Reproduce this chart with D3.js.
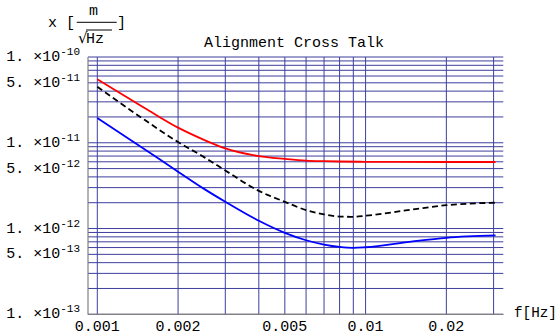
<!DOCTYPE html>
<html><head><meta charset="utf-8">
<script src="https://cdn.jsdelivr.net/npm/d3@7"></script>
<style>
body{margin:0;background:#fff;}
svg{display:block;}
text{font-family:"Liberation Mono","Courier New",monospace;fill:#000;}
</style></head>
<body><svg id="c" width="558" height="336"></svg>
<script>
// ---- data ----
const freqRed   = [0.001,0.0015,0.002,0.0025,0.003,0.004,0.005,0.006,0.007,0.008,0.01,0.02,0.0305];
const valRed    = [5.5e-11,2.55e-11,1.5e-11,1.08e-11,8.6e-12,7.0e-12,6.5e-12,6.2e-12,6.1e-12,6.05e-12,6.0e-12,5.97e-12,5.97e-12];
const freqBlack = [0.001,0.0015,0.002,0.0025,0.003,0.004,0.005,0.006,0.007,0.008,0.009,0.01,0.015,0.02,0.0305];
const valBlack  = [4.5e-11,1.85e-11,1.02e-11,6.8e-12,4.75e-12,2.75e-12,2.05e-12,1.64e-12,1.46e-12,1.38e-12,1.37e-12,1.41e-12,1.67e-12,1.87e-12,2.0e-12];
const freqBlue  = [0.001,0.0015,0.002,0.0025,0.003,0.004,0.005,0.006,0.007,0.008,0.009,0.01,0.015,0.02,0.0305];
const valBlue   = [1.95e-11,8.4e-12,4.6e-12,2.9e-12,2.05e-12,1.23e-12,8.9e-13,7.3e-13,6.5e-13,6.1e-13,5.95e-13,6.05e-13,7.1e-13,7.8e-13,8.3e-13];
const xTicks = [0.001,0.002,0.005,0.01,0.02];
const xTickLabels = ["0.001","0.002","0.005","0.01","0.02"];
const xGrid = [0.001,0.002,0.003,0.004,0.005,0.006,0.007,0.008,0.009,0.01,0.02,0.03];
const yTicks = [1e-10,5e-11,1e-11,5e-12,1e-12,5e-13,1e-13];
const yTickMant = ["1.","5.","1.","5.","1.","5.","1."];
const yTickExp = ["-10","-11","-11","-12","-12","-13","-13"];
const yGridMant = [1,2,3,4,5,6,7,8,9];
const yGridExp = [-13,-12,-11];
const title = "Alignment Cross Talk";

// ---- layout ----
const L = 88, R = 503.3, T = 57, B = 314.3;
const x = d3.scaleLog().domain([0.001,0.03]).range([97.3,493.6]);
const y = d3.scaleLog().domain([1e-13,1e-10]).range([B,T]);
const svg = d3.select("#c");
const gridColor = "#3e3e9e";

// grid
const yGrid = [];
yGridExp.forEach(e => yGridMant.forEach(m => yGrid.push(m*Math.pow(10,e))));
yGrid.push(1e-10);
svg.append("g").selectAll("line").data(yGrid).join("line")
  .attr("x1",L).attr("x2",R).attr("y1",d=>y(d)).attr("y2",d=>y(d))
  .attr("stroke",gridColor).attr("stroke-width",1);
svg.append("g").selectAll("line").data(xGrid).join("line")
  .attr("x1",d=>x(d)).attr("x2",d=>x(d)).attr("y1",T).attr("y2",B)
  .attr("stroke",gridColor).attr("stroke-width",1);

// axes
svg.append("line").attr("x1",L).attr("x2",L).attr("y1",T).attr("y2",B+0.5).attr("stroke","#808080").attr("stroke-width",1.2);
svg.append("line").attr("x1",L).attr("x2",R).attr("y1",B).attr("y2",B).attr("stroke","#808080").attr("stroke-width",1.2);

// curves
const line = d3.line().x(d=>x(d[0])).y(d=>y(d[1])).curve(d3.curveMonotoneX);
const series = [
  {f:freqRed, v:valRed, c:"#ff0000", dash:null},
  {f:freqBlue, v:valBlue, c:"#0000ff", dash:null},
  {f:freqBlack, v:valBlack, c:"#000000", dash:"6,3.5"}
];
series.forEach(s=>{
  svg.append("path").attr("d", line(s.f.map((f,i)=>[f,s.v[i]])))
    .attr("fill","none").attr("stroke",s.c).attr("stroke-width",1.8)
    .attr("stroke-dasharray",s.dash);
});

// y tick labels
yTicks.forEach((t,i)=>{
  const tx = svg.append("text").attr("x",80).attr("y",y(t)+4).attr("text-anchor","end").attr("font-size",15);
  tx.append("tspan").text(yTickMant[i]+" \u00d710");
  tx.append("tspan").attr("dy",-6).attr("font-size",11).text(yTickExp[i]);
});
// x tick labels
xTicks.forEach((t,i)=>{
  svg.append("text").attr("x",x(t)).attr("y",331).attr("text-anchor","middle").attr("font-size",15).text(xTickLabels[i]);
});
svg.append("text").attr("x",514).attr("y",317).attr("font-size",14.3).text("f[Hz]");

// title
svg.append("text").attr("x",204).attr("y",46.5).attr("font-size",15).text(title);

// y axis label  x [ m / sqrt(Hz) ]
svg.append("text").attr("x",48).attr("y",26.5).attr("font-size",15).text("x");
svg.append("text").attr("x",66).attr("y",27).attr("font-size",15).text("[");
svg.append("text").attr("x",117).attr("y",27).attr("font-size",15).text("]");
svg.append("text").attr("x",93.5).attr("y",15).attr("text-anchor","middle").attr("font-size",15).text("m");
svg.append("line").attr("x1",76.7).attr("x2",116.7).attr("y1",22.3).attr("y2",22.3).attr("stroke","#000").attr("stroke-width",1);
const sq = svg.append("text").attr("x",78).attr("y",43.3).attr("font-size",15);
sq.append("tspan").attr("font-family","DejaVu Sans").text("\u221a");
sq.append("tspan").attr("dx",-1.5).text("Hz");
svg.append("line").attr("x1",86).attr("x2",112).attr("y1",30).attr("y2",30).attr("stroke","#000").attr("stroke-width",1);
</script></body></html>
